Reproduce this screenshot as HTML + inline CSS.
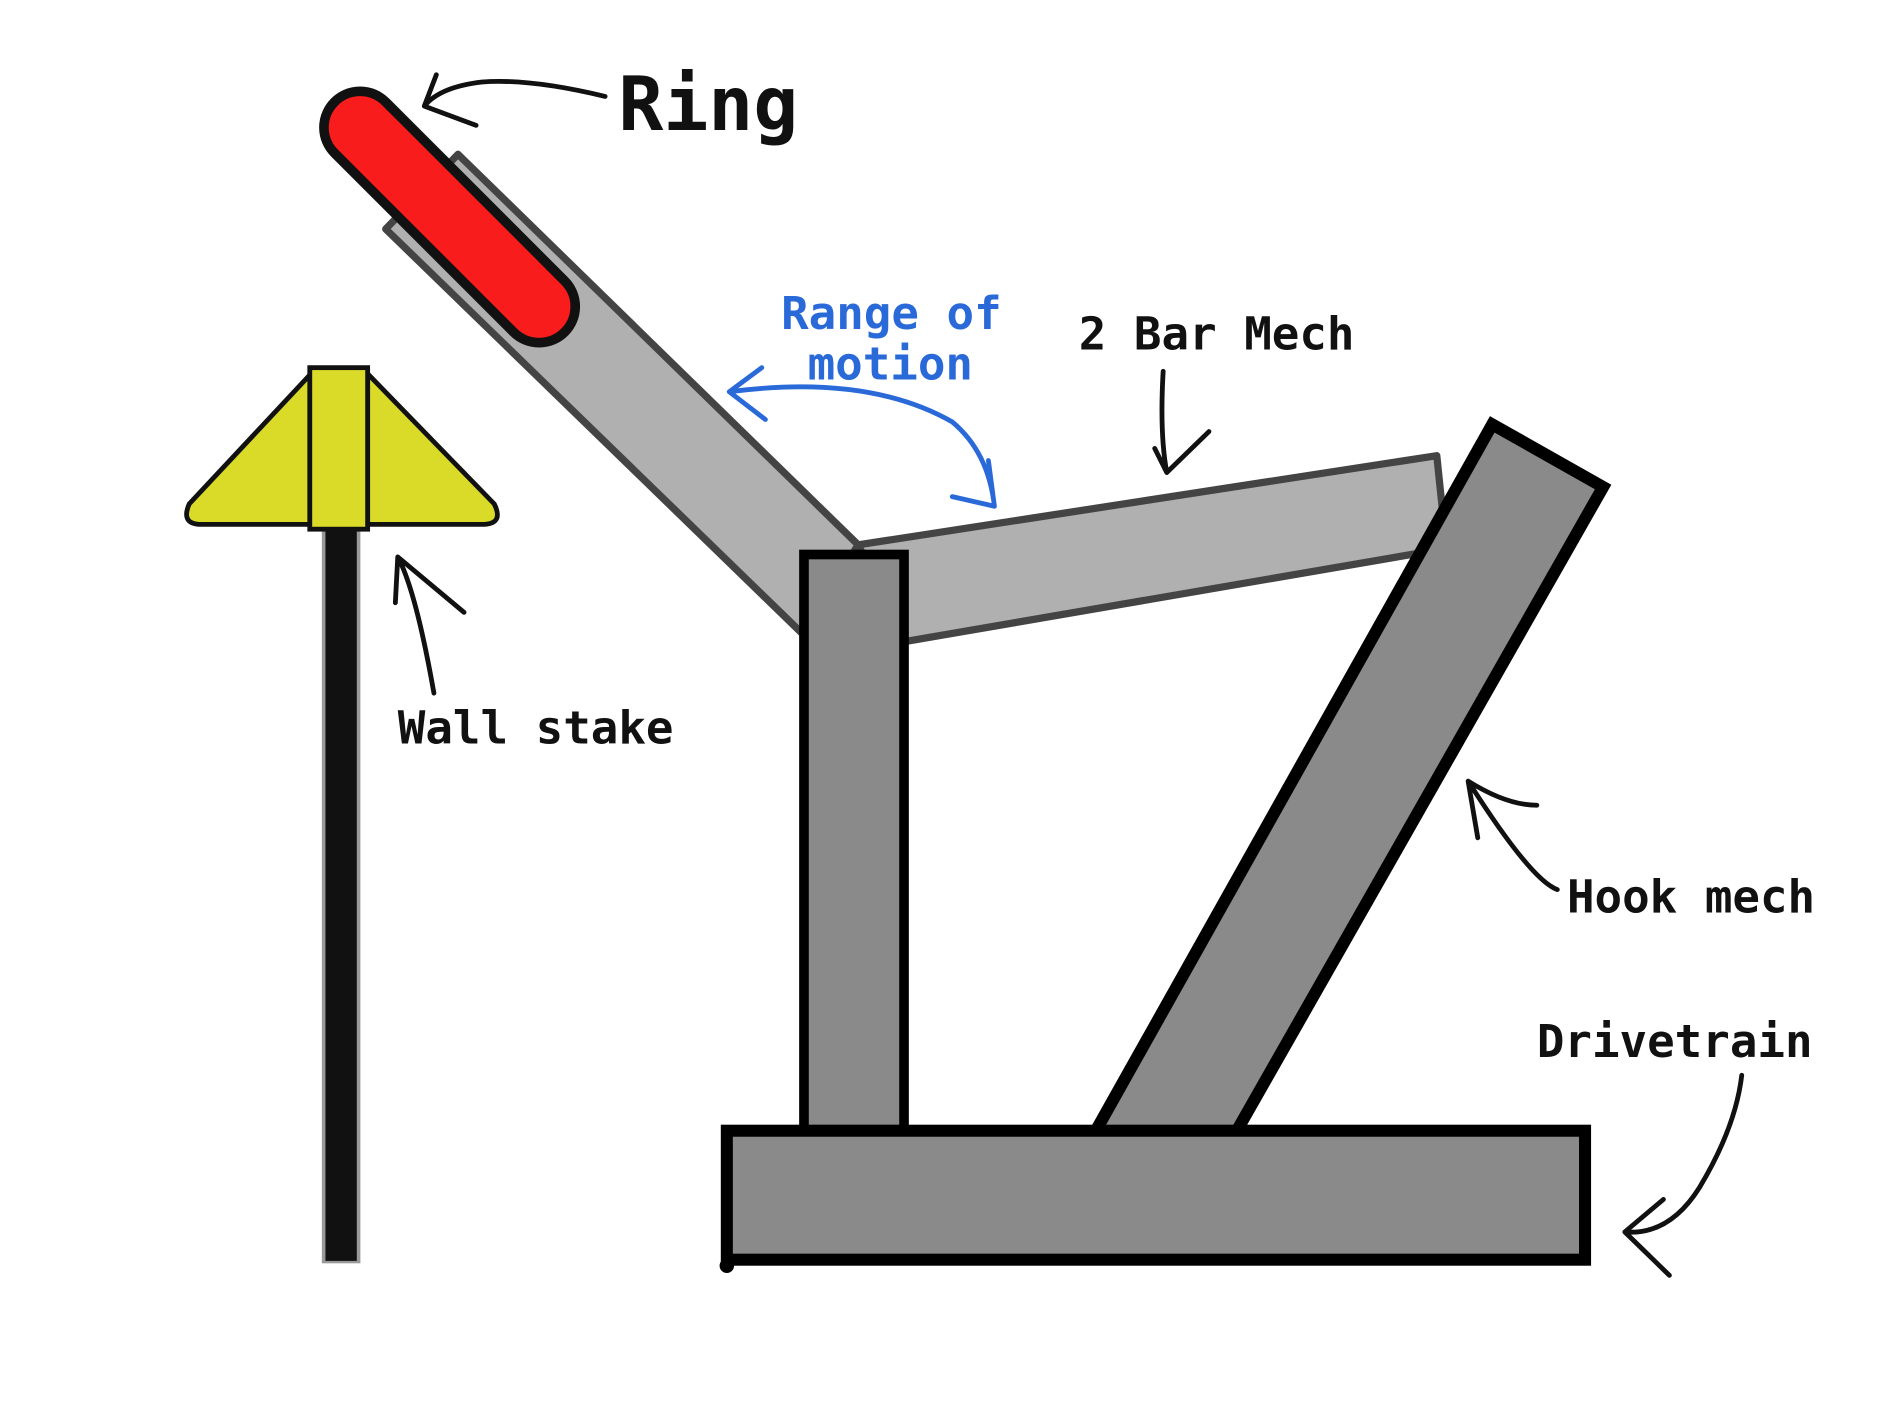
<!DOCTYPE html>
<html><head><meta charset="utf-8"><style>
html,body{margin:0;padding:0;background:#fff;}
svg{display:block;}
text{font-family:"DejaVu Sans Mono","Liberation Mono",monospace;font-weight:bold;}
</style></head><body>
<svg width="1890" height="1417" viewBox="0 0 1568 1175.5" preserveAspectRatio="none" xmlns="http://www.w3.org/2000/svg">
<rect width="1568" height="1176" fill="#fff"/>
<g>
<rect x="267" y="436" width="32" height="612" fill="#999"/>
<rect x="270" y="436" width="26" height="610" fill="#111"/>
<path d="M258,310 L157,418 Q150,434 165,435 L258,435 Z" fill="#dada28" stroke="#111" stroke-width="4" stroke-linejoin="round"/>
<path d="M305,310 L410,418 Q418,434 402,435 L305,435 Z" fill="#dada28" stroke="#111" stroke-width="4" stroke-linejoin="round"/>
<rect x="257" y="305" width="48" height="134" fill="#dada28" stroke="#111" stroke-width="4"/>
</g>
<polygon points="380,128 712,452 665,525 320,190" fill="#b0b0b0" stroke="#444" stroke-width="6" stroke-linejoin="round"/>
<g transform="translate(373,180) rotate(45)">
<rect x="-135" y="-30" width="270" height="60" rx="30" fill="#f81c1c" stroke="#111" stroke-width="8"/>
</g>
<polygon points="712,452 1192,378 1200,455 752,532" fill="#b0b0b0" stroke="#444" stroke-width="6" stroke-linejoin="round"/>
<rect x="667" y="460" width="83" height="480" fill="#8a8a8a" stroke="#000" stroke-width="8"/>
<polygon points="1238,352 1330,404 1025,940 908,940" fill="#8a8a8a" stroke="#000" stroke-width="10" stroke-linejoin="miter"/>
<rect x="603" y="938" width="712" height="107" fill="#8a8a8a" stroke="#000" stroke-width="10"/>
<circle cx="603" cy="1050" r="6" fill="#000"/>
<g fill="none" stroke="#111" stroke-width="4" stroke-linecap="round">
<path d="M502,80 Q440,65 400,68 Q365,72 352,88 M352,88 L362,62 M352,88 L395,104"/>
<path d="M360,575 Q345,490 330,462 M330,462 L385,508 M330,462 L328,500"/>
<path d="M965,308 Q962,360 968,392 M968,392 L1003,358 M968,392 L958,372"/>
<path d="M1292,738 Q1270,730 1218,648 M1218,648 L1226,695 M1218,648 Q1250,668 1275,668"/>
<path d="M1445,892 Q1440,935 1410,985 Q1385,1025 1348,1022 M1348,1022 L1385,1058 M1348,1022 L1380,995"/>
</g>
<path d="M605,325 Q720,310 790,350 Q820,375 825,420 M605,325 L632,305 M605,325 L635,348 M825,420 L790,412 M825,420 L820,382" fill="none" stroke="#2a6ad8" stroke-width="4" stroke-linecap="round"/>
<text x="513" y="108" font-size="62" fill="#111">Ring</text>
<text x="648" y="273" font-size="38" fill="#2a6ad8">Range of</text>
<text x="670" y="315" font-size="38" fill="#2a6ad8">motion</text>
<text x="895" y="290" font-size="38" fill="#111">2 Bar Mech</text>
<text x="330" y="617" font-size="38" fill="#111">Wall stake</text>
<text x="1300" y="757" font-size="38" fill="#111">Hook mech</text>
<text x="1275" y="877" font-size="38" fill="#111">Drivetrain</text>
</svg>
</body></html>
